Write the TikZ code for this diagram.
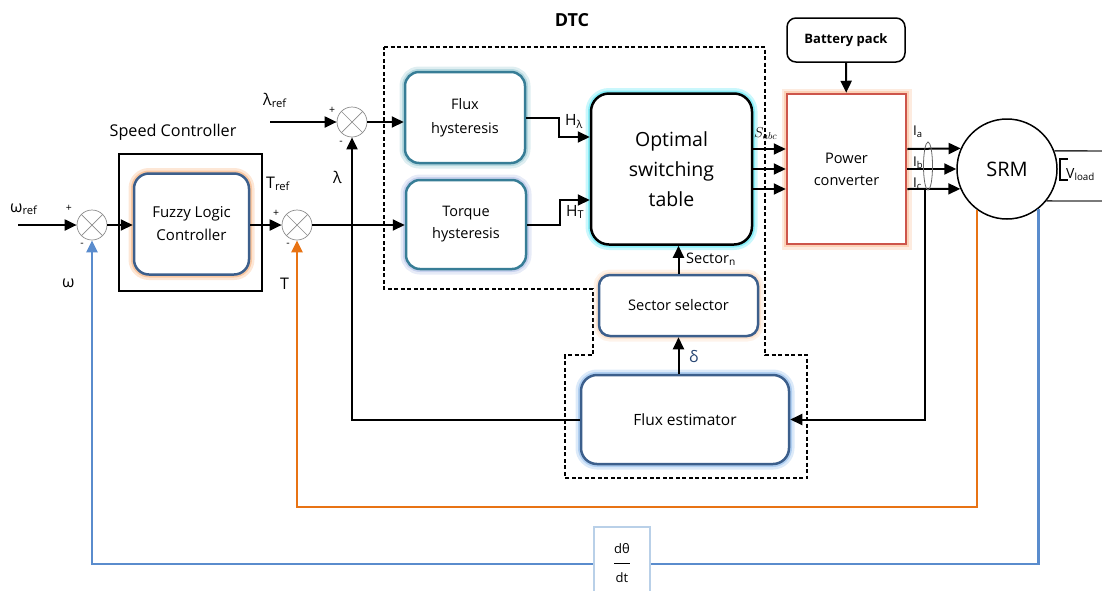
\documentclass[tikz,border=0pt]{standalone}
\usepackage{fontspec}
\setmainfont{Open Sans}
\usetikzlibrary{arrows.meta,calc,shapes.geometric}

\definecolor{bbord}{RGB}{60,95,140}
\definecolor{tbord}{RGB}{55,125,150}
\definecolor{glowor}{RGB}{248,175,120}
\definecolor{glowteal}{RGB}{150,200,210}
\definecolor{glowlav}{RGB}{175,190,230}
\definecolor{glowcyan}{RGB}{80,230,245}
\definecolor{glowblue}{RGB}{140,185,235}
\definecolor{pcred}{RGB}{205,85,75}
\definecolor{pcglow}{RGB}{250,190,150}
\definecolor{fbor}{RGB}{232,115,20}
\definecolor{fbbl}{RGB}{90,140,205}
\definecolor{ddbox}{RGB}{185,208,232}
\definecolor{deltac}{RGB}{40,70,115}

\begin{document}
\begin{tikzpicture}[x=1pt,y=-1pt,
  font=\fontsize{14}{17}\selectfont,
  arr/.style={line width=2pt,-{Triangle[length=12pt,width=11pt]}},
  oarr/.style={line width=2.5pt,draw=fbor,-{Triangle[length=12pt,width=11pt]}},
  barr/.style={line width=2.5pt,draw=fbbl,-{Triangle[length=12pt,width=11pt]}},
  glow/.style={preaction={draw=#1,draw opacity=0.3,line width=11pt},
               preaction={draw=#1,draw opacity=0.55,line width=6pt}},
  sumj/.style={circle,draw=black!45,line width=0.7pt,fill=white,minimum size=30pt,inner sep=0pt,
    path picture={\draw[black!45,line width=0.7pt]
      (path picture bounding box.north west) -- (path picture bounding box.south east)
      (path picture bounding box.north east) -- (path picture bounding box.south west);}},
  lab/.style={font=\fontsize{16}{18}\selectfont,inner sep=0pt},
  sgn/.style={font=\fontsize{10.5}{11}\selectfont,inner sep=0pt},
  dashbox/.style={line width=1.6pt,dash pattern=on 4pt off 2.5pt}
]
\useasboundingbox (0,0) rectangle (1102,590);

% DTC block outline
\node[font=\bfseries\fontsize{18}{20}\selectfont] (dtct) at (572,20) {DTC};
\draw[dashbox] (384,47) -- (765,47) -- (765,355) -- (807,355) -- (807,478) -- (565,478)
  -- (565,355) -- (593,355) -- (593,289) -- (384,289) -- cycle;

% speed controller
\node[font=\fontsize{16.2}{18}\selectfont] (spdt) at (173,132) {Speed Controller};
\node[draw,line width=1.5pt,minimum width=143pt,minimum height=137pt] (spd) at (190.5,222.5) {};
\node[draw=bbord,line width=2.5pt,fill=white,rounded corners=15pt,glow=glowor,
  minimum width=115pt,minimum height=101pt,align=center,font=\fontsize{15}{23}\selectfont]
  (flc) at (191.5,224) {Fuzzy Logic\\Controller};

% summing junctions
\node[sumj] (s1) at (92,225) {};
\node[sumj] (s2) at (297,225) {};
\node[sumj] (s3) at (352,122) {};

% hysteresis blocks
\node[draw=tbord,line width=2.5pt,fill=white,rounded corners=14pt,glow=glowteal,
  minimum width=120pt,minimum height=91pt,align=center,font=\fontsize{14.5}{24}\selectfont]
  (fh) at (465,117.5) {Flux\\hysteresis};
\node[draw=tbord,line width=2.5pt,fill=white,rounded corners=14pt,glow=glowlav,
  minimum width=120pt,minimum height=89pt,align=center,font=\fontsize{14.5}{22}\selectfont]
  (th) at (466,224.5) {Torque\\hysteresis};

% switching table, sector selector, flux estimator
\node[draw=black,line width=2.5pt,fill=white,rounded corners=18pt,glow=glowcyan,
  minimum width=161pt,minimum height=151pt,align=center,font=\fontsize{19.5}{30}\selectfont]
  (ost) at (671.5,169) {Optimal\\switching\\table};
\node[draw=bbord,line width=2.5pt,fill=white,rounded corners=11pt,glow=glowor!50,
  minimum width=159pt,minimum height=61pt,font=\fontsize{14.6}{17}\selectfont]
  (sec) at (678.5,305.5) {Sector selector};
\node[draw=bbord,line width=2.5pt,fill=white,rounded corners=16pt,glow=glowblue,
  minimum width=208pt,minimum height=89pt,font=\fontsize{15.5}{18}\selectfont]
  (fe) at (685,419.5) {Flux estimator};

% power stage
\node[draw=pcred,line width=2.5pt,fill=white,glow=pcglow,
  minimum width=119pt,minimum height=150pt,align=center,font=\fontsize{14.6}{22}\selectfont]
  (pc) at (846.5,169) {Power\\converter};
\node[draw,line width=1.5pt,fill=white,rounded corners=9pt,
  minimum width=118pt,minimum height=44pt,font=\bfseries\fontsize{13}{15}\selectfont]
  (bat) at (846,40) {Battery pack};
\node[circle,draw,line width=1.5pt,fill=white,minimum size=100pt,inner sep=0pt,
  font=\fontsize{20}{22}\selectfont] (srm) at (1007,169) {SRM};

% forward path
\coordinate (win) at (18,225);
\coordinate (lin) at (270,122);
\draw[arr] (win) -- (s1);
\draw[arr] (s1) -- (s1 -| flc.west);
\draw[arr] (flc.east |- s2) -- (s2);
\draw[arr] (lin) -- (s3);
\draw[arr] (s3) -- (s3 -| fh.west);
\draw[arr] (s2) -- (s2 -| th.west);
\draw[arr] (fh.east) -- ++(33,0) |- ([yshift=32pt]ost.west);
\draw[arr] (th.east) -- ++(33,0) |- ([yshift=-31pt]ost.west);

% switching signals
\draw[arr] ([yshift=20pt]ost.east) -- ([yshift=20pt]ost.east -| pc.west);
\draw[arr] (ost.east) -- (pc.west);
\draw[arr] ([yshift=-20pt]ost.east) -- ([yshift=-20pt]ost.east -| pc.west);

% phase currents
\draw[arr] ([yshift=20pt]pc.east) -- (srm.156.4);
\draw[arr] (pc.east) -- (srm.west);
\draw[arr] ([yshift=-20pt]pc.east) -- (srm.203.6);
\draw[line width=0.8pt,black!60] (928,166) ellipse [x radius=4.5pt,y radius=24pt];
\draw[arr] (bat) -- (pc);

% estimator loop
\coordinate (tap) at (925,189);
\draw[arr] (tap) |- (fe.east);
\draw[arr] (sec.north) -- (sec.north |- ost.south);
\draw[arr] (sec.south |- fe.north) -- (sec.south);
\draw[arr] (fe.west) -| (s3.south);

% load
\draw[line width=1.4pt,black!80] (srm.21.1) -- (1102,151);
\draw[line width=1.4pt,black!80] (srm.-39.8) -- (1102,201);
\draw[line width=1.8pt] (1068,159) -- (1060,159) -- (1060,180) -- (1068,180);

% torque and speed feedback
\draw[oarr] (srm.234.5) -- ++(0,297) -| (s2.south);
\draw[barr] (srm.308.3) -- ++(0,355) -| (s1.south);
\node[draw=ddbox,line width=2pt,fill=white,minimum width=56pt,minimum height=72pt] (dd) at (622,563) {};
\node[font=\fontsize{13}{15}\selectfont,inner sep=0pt] (ddn) at (622,549) {dθ};
\draw[line width=1.6pt] (614,563.5) -- (630,563.5);
\node[font=\fontsize{13}{15}\selectfont,inner sep=0pt] (ddd) at (622,578) {dt};

% signal labels
\node[lab,anchor=base west] (lwref) at (10,212) {ω\textsubscript{ref}};
\node[lab,anchor=base west] (lw) at (62,287) {ω};
\node[lab,anchor=base west] (ltref) at (266,188) {T\textsubscript{ref}};
\node[lab,anchor=base west] (lt) at (280,289) {T};
\node[lab,anchor=base west] (llref) at (263,105) {λ\textsubscript{ref}};
\node[lab,anchor=base west] (ll) at (333,183) {λ};
\node[sgn] (p1) at (69,208) {+};
\node[sgn] (m1) at (82,245) {-};
\node[sgn] (p2) at (276,213) {+};
\node[sgn] (m2) at (288,245) {-};
\node[sgn] (p3) at (332,110) {+};
\node[sgn] (m3) at (341,143) {-};
\node[lab,anchor=base west,font=\fontsize{15.5}{17}\selectfont] (lhl) at (565,125) {H\textsubscript{λ}};
\node[lab,anchor=base west,font=\fontsize{15.5}{17}\selectfont] (lht) at (566,216) {H\textsubscript{T}};
\node[lab,anchor=base west,font=\fontsize{14.5}{17}\selectfont] (lsec) at (686,263) {Sector\textsubscript{n}};
\node[lab,anchor=base west,font=\fontsize{16}{18}\selectfont,text=deltac] (ldel) at (689,362) {δ};
\node[lab,anchor=base west,font=\fontsize{14}{17}\selectfont] (lsabc) at (754,137) {$S_{abc}$};
\node[lab,anchor=base west,font=\fontsize{13.5}{15}\selectfont] (lia) at (913,135) {I\textsubscript{a}};
\node[lab,anchor=base west,font=\fontsize{13.5}{15}\selectfont] (lib) at (913,166) {I\textsubscript{b}};
\node[lab,anchor=base west,font=\fontsize{13.5}{15}\selectfont] (lic) at (913,187) {I\textsubscript{c}};
\node[lab,anchor=base west,font=\fontsize{14}{17}\selectfont] (lvl) at (1066,178) {V\textsubscript{load}};
\end{tikzpicture}
\end{document}
